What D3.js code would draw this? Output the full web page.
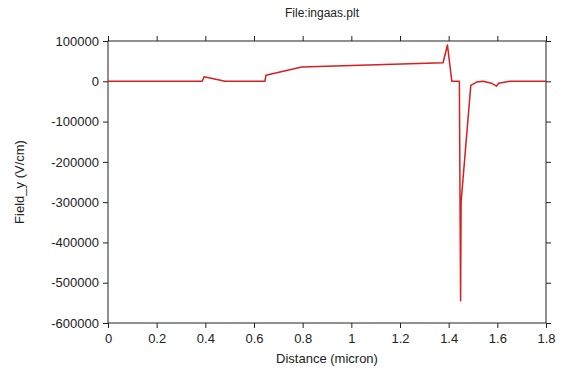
<!DOCTYPE html>
<html>
<head>
<meta charset="utf-8">
<script src="https://cdn.jsdelivr.net/npm/d3@7"></script>
<style>
  body { margin: 0; background: #fff; }
  text { font-family: "Liberation Sans", Arial, sans-serif; fill: #222; }
</style>
</head>
<body>
<div id="chart"></div>
<script>
// distance (micron) and field_y (V/cm)
var distance = [0, 0.387, 0.395, 0.481, 0.645, 0.649, 0.796, 1.377, 1.395, 1.413, 1.444, 1.449, 1.451, 1.491, 1.515, 1.541, 1.577, 1.597, 1.605, 1.652, 1.8];
var field = [0, 0, 11000, 0, 0, 15000, 35500, 46000, 90000, 0, 0, -545000, -300000, -10000, -2000, 0, -5000, -12000, -5000, 0, 0];
var xTicks = [0, 0.2, 0.4, 0.6, 0.8, 1, 1.2, 1.4, 1.6, 1.8];
var yTicks = [100000, 0, -100000, -200000, -300000, -400000, -500000, -600000];

var margin = {top: 41, right: 17, bottom: 47, left: 108};
var width = 563, height = 370;
var chartWidth = width - margin.left - margin.right;
var chartHeight = height - margin.top - margin.bottom;

var svg = d3.select('#chart').append('svg')
    .attr('width', width)
    .attr('height', height)
  .append('g')
    .attr('transform', `translate(${margin.left}, ${margin.top})`);

var xScale = d3.scaleLinear().domain([0, 1.8]).range([0, chartWidth]);
var yScale = d3.scaleLinear().domain([-600000, 100000]).range([chartHeight, 0]);

function styleAxis(g, labels) {
  g.select('.domain').remove();
  g.selectAll('line').attr('stroke', '#222');
  if (labels) g.selectAll('text').style('font-size', '13px').style('fill', '#222');
  else g.selectAll('text').remove();
}

svg.append('g')
    .attr('transform', `translate(0,${chartHeight})`)
    .call(d3.axisBottom(xScale).tickValues(xTicks).tickFormat(d => String(d)).tickSize(5).tickPadding(6))
    .call(g => styleAxis(g, true));

svg.append('g')
    .call(d3.axisTop(xScale).tickValues(xTicks).tickSize(5))
    .call(g => styleAxis(g, false));

svg.append('g')
    .call(d3.axisLeft(yScale).tickValues(yTicks).tickFormat(d => String(d)).tickSize(5).tickPadding(4))
    .call(g => styleAxis(g, true));

svg.append('g')
    .attr('transform', `translate(${chartWidth},0)`)
    .call(d3.axisRight(yScale).tickValues(yTicks).tickSize(5))
    .call(g => styleAxis(g, false));

// frame
svg.append('rect')
    .attr('width', chartWidth)
    .attr('height', chartHeight)
    .attr('fill', 'none')
    .attr('stroke', '#222')
    .attr('stroke-width', 1);

var line = d3.line()
    .x((d, i) => xScale(distance[i]))
    .y(d => yScale(d));

svg.append('path')
    .datum(field)
    .attr('fill', 'none')
    .attr('stroke', '#d81e1e')
    .attr('stroke-width', 1.5)
    .attr('stroke-linejoin', 'round')
    .attr('d', line);

svg.append('text')
    .attr('x', chartWidth / 2 - 5)
    .attr('y', -24)
    .attr('text-anchor', 'middle')
    .style('font-size', '12px')
    .text('File:ingaas.plt');

svg.append('text')
    .attr('x', chartWidth / 2)
    .attr('y', chartHeight + 40)
    .attr('text-anchor', 'middle')
    .style('font-size', '13px')
    .text('Distance (micron)');

svg.append('text')
    .attr('transform', `translate(-84,${chartHeight / 2}) rotate(-90)`)
    .attr('text-anchor', 'middle')
    .style('font-size', '13px')
    .text('Field_y (V/cm)');
</script>
</body>
</html>
